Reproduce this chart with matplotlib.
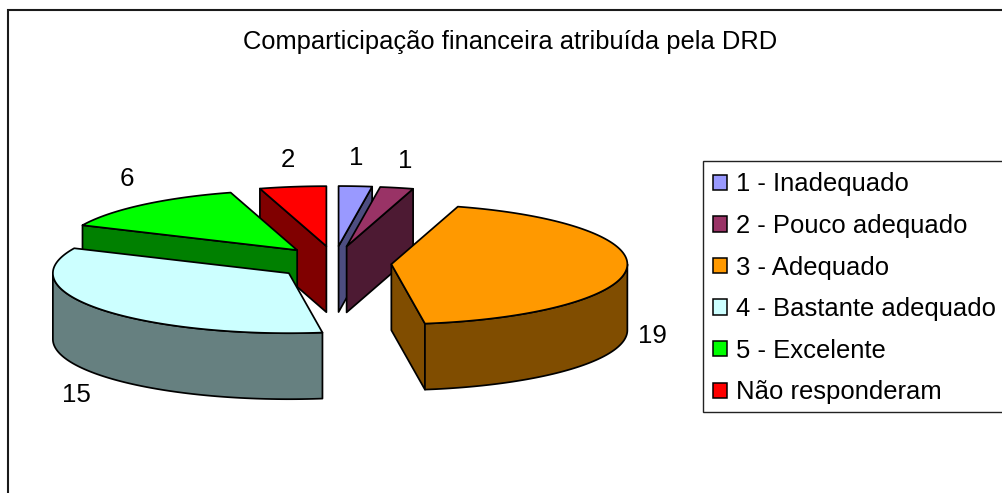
import numpy as np
import matplotlib
matplotlib.use("Agg")
import matplotlib.pyplot as plt
from matplotlib.patches import Polygon, Patch, Rectangle

plt.rcParams['font.family'] = ['Liberation Sans', 'DejaVu Sans']

# Data
categories = ["1 - Inadequado", "2 - Pouco adequado", "3 - Adequado",
              "4 - Bastante adequado", "5 - Excelente", "Não responderam"]
values = [1, 1, 19, 15, 6, 2]
title = "Comparticipação financeira atribuída pela DRD"

# Style
top_colors = ["#9999FF", "#993366", "#FF9900", "#CCFFFF", "#00FF00", "#FF0000"]
side_colors = ["#4D4D80", "#4D1A33", "#804D00", "#668080", "#008000", "#800000"]
label_pos = [(356, 158), (405, 161), (652, 336), (76, 395), (127, 179), (288, 160)]

# Layout of the projected pie (pixels)
CX, CY = 334.5, 263
RX, RY = 236, 60
DEPTH = 66
EXPLODE_X, EXPLODE_Y = 57, 17
EDGE = "#000000"
LW = 1.25

W, H = 1002, 493
fig = plt.figure(figsize=(W / 100, H / 100), dpi=100, facecolor="white")
ax = fig.add_axes([0, 0, 1, 1])
ax.set_xlim(0, W)
ax.set_ylim(H, 0)
ax.axis("off")

# Chart frame (runs off the right and bottom edges)
ax.plot([8, 8, W + 5], [H + 5, 10, 10], color="#1a1a1a", lw=1.5, solid_joinstyle="miter")


def rim(apex, deg):
    t = np.radians(deg)
    return np.column_stack([apex[0] + RX * np.sin(t), apex[1] - RY * np.cos(t)])


def face(points, color, z):
    ax.add_patch(Polygon(points, closed=True, facecolor=color, edgecolor=EDGE,
                         lw=LW, joinstyle="round", zorder=z))


shift = np.array([0, DEPTH])
fractions = np.array(values, dtype=float) / sum(values)
ends = np.cumsum(fractions) * 360
starts = ends - fractions * 360
mids = (starts + ends) / 2
apexes = np.column_stack([CX + EXPLODE_X * np.sin(np.radians(mids)),
                          CY - EXPLODE_Y * np.cos(np.radians(mids))])

# Paint from the back of the pie to the front
order = np.argsort(apexes[:, 1], kind="stable")
for z, i in enumerate(order):
    a0, a1 = starts[i], ends[i]
    apex = apexes[i]
    base = 10 + z * 5
    # Cut faces that look toward the viewer
    if np.sin(np.radians(a0)) < 0:
        p = rim(apex, [a0])[0]
        face([apex, p, p + shift, apex + shift], side_colors[i], base)
    if np.sin(np.radians(a1)) > 0:
        p = rim(apex, [a1])[0]
        face([apex, p, p + shift, apex + shift], side_colors[i], base)
    # Outer wall, front half only
    lo, hi = max(a0, 90), min(a1, 270)
    if hi > lo:
        arc = rim(apex, np.linspace(lo, hi, 80))
        face(np.vstack([arc, (arc + shift)[::-1]]), side_colors[i], base + 1)
    # Top surface
    arc = rim(apex, np.linspace(a0, a1, 120))
    face(np.vstack([apex, arc]), top_colors[i], base + 2)

# Value labels
for v, (x, y) in zip(values, label_pos):
    ax.text(x, y, str(v), ha="center", va="center", fontsize=18.6, color="black", zorder=60)

ax.text(510.5, 41.5, title, ha="center", va="center", fontsize=18.35, color="black", zorder=60)

# Legend box (runs off the right edge) and its entries
ax.add_patch(Rectangle((703.5, 160.5), 310, 251, facecolor="white", edgecolor="#222222",
                       lw=1.0, zorder=65))
handles = [Patch(facecolor=c, edgecolor="black", lw=1.1, label=l)
           for c, l in zip(top_colors, categories)]
leg = ax.legend(handles=handles, loc="upper left",
                bbox_to_anchor=(703 / W, 1 - 162.5 / H), bbox_transform=ax.transAxes,
                borderaxespad=0, fontsize=18.45, frameon=False,
                handlelength=0.54, handleheight=0.54, handletextpad=0.36,
                labelspacing=0.685, borderpad=0.39)
leg.set_zorder(70)

fig.savefig("out.png", dpi=100)
